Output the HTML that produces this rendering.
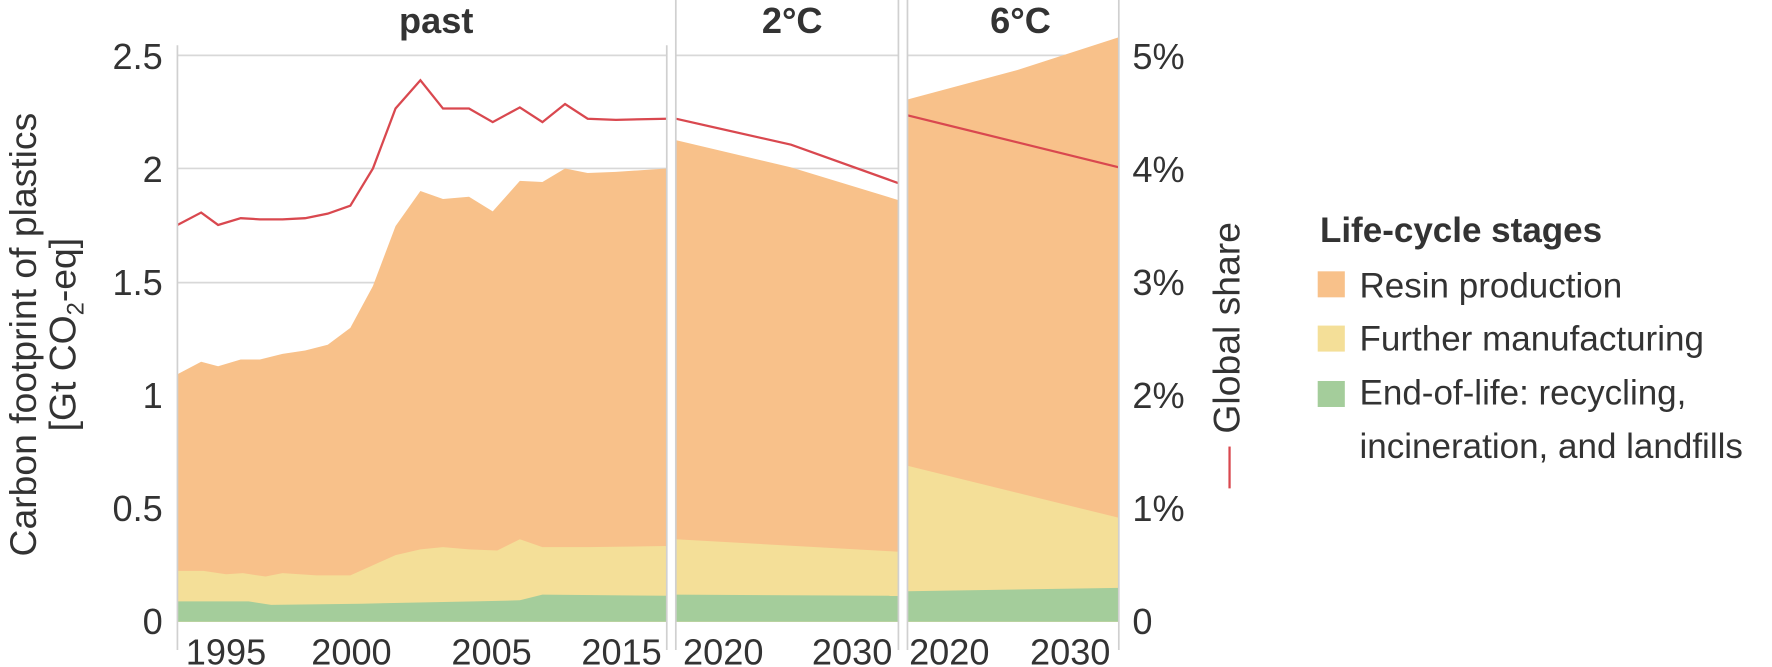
<!DOCTYPE html>
<html><head><meta charset="utf-8"><style>
html,body{margin:0;padding:0;background:#fff;}
svg{display:block;}
svg text{font-family:"Liberation Sans",sans-serif;fill:#333;}
</style></head><body>
<svg width="1772" height="667" viewBox="0 0 1568 590" preserveAspectRatio="none" xmlns="http://www.w3.org/2000/svg">
<g stroke="#d8d8d8" stroke-width="1.5">
<line x1="157" y1="49" x2="990" y2="49"/>
<line x1="157" y1="149" x2="990" y2="149"/>
<line x1="157" y1="250" x2="990" y2="250"/>
<line x1="157" y1="350" x2="990" y2="350"/>
<line x1="157" y1="450" x2="990" y2="450"/>
</g>
<polygon fill="#f8c18a" points="157,331 178,320 193,324 213,318 230,318 250,313 270,310 290,305 310,290 330,253 350,200 372,169 392,176 415,174 436,187 460,160 480,161 500,149 520,153 545,152 590,149 590,550 157,550"/>
<polygon fill="#f4df98" points="157,505 180,505 200,508 215,507 235,510 250,507 280,509 310,509 330,500 350,491 372,486 392,484 415,486 440,487 460,477 480,484 520,484 590,483 590,550 157,550"/>
<polygon fill="#a4cd9b" points="157,532 220,532 240,535 320,534 420,532 460,531 480,526 590,527 590,550 157,550"/>
<polyline fill="none" stroke="#d9484f" stroke-width="2" points="157,199 178,188 193,199 213,193 230,194 250,194 270,193 290,189 310,182 330,149 350,96 372,71 392,96 415,96 436,108 460,95 480,108 500,92 520,105 545,106 590,105"/>
<polygon fill="#f8c18a" points="598,124 700,148 795,177 795,550 598,550"/>
<polygon fill="#f4df98" points="598,477 795,488 795,550 598,550"/>
<polygon fill="#a4cd9b" points="598,526 795,527 795,550 598,550"/>
<polyline fill="none" stroke="#d9484f" stroke-width="2" points="598,105 700,128 795,162"/>
<polygon fill="#f8c18a" points="803,88 900,62 990,33 990,550 803,550"/>
<polygon fill="#f4df98" points="803,412 990,458 990,550 803,550"/>
<polygon fill="#a4cd9b" points="803,523 990,520 990,550 803,550"/>
<polyline fill="none" stroke="#d9484f" stroke-width="2" points="803,102 990,148"/>
<rect x="590" y="0" width="8" height="580" fill="#fff"/>
<rect x="795" y="0" width="8" height="580" fill="#fff"/>
<g stroke="#d0d0d0" stroke-width="1.5">
<line x1="157" y1="40" x2="157" y2="575"/>
<line x1="590" y1="40" x2="590" y2="575"/>
<line x1="598" y1="0" x2="598" y2="575"/>
<line x1="795" y1="0" x2="795" y2="575"/>
<line x1="803" y1="0" x2="803" y2="575"/>
<line x1="990" y1="0" x2="990" y2="575"/>
</g>
<g font-weight="bold" font-size="32" text-anchor="middle">
<text x="386" y="29">past</text>
<text x="701" y="29">2°C</text>
<text x="903" y="29">6°C</text>
</g>
<g font-size="32" text-anchor="end">
<text x="144" y="61">2.5</text>
<text x="144" y="161">2</text>
<text x="144" y="261">1.5</text>
<text x="144" y="361">1</text>
<text x="144" y="461">0.5</text>
<text x="144" y="561">0</text>
</g>
<g font-size="32" text-anchor="start">
<text x="1002" y="61">5%</text>
<text x="1002" y="161">4%</text>
<text x="1002" y="261">3%</text>
<text x="1002" y="361">2%</text>
<text x="1002" y="461">1%</text>
<text x="1002" y="561">0</text>
</g>
<g font-size="32" text-anchor="middle">
<text x="200" y="588">1995</text>
<text x="311" y="588">2000</text>
<text x="435" y="588">2005</text>
<text x="550" y="588">2015</text>
<text x="640" y="588">2020</text>
<text x="754" y="588">2030</text>
<text x="840" y="588">2020</text>
<text x="947" y="588">2030</text>
</g>
<text font-size="33" text-anchor="middle" transform="translate(32,296) rotate(-90)">Carbon footprint of plastics</text>
<text font-size="33" text-anchor="middle" transform="translate(67,296) rotate(-90)">[Gt CO<tspan font-size="21" dy="7">2</tspan><tspan dy="-7">-eq]</tspan></text>
<text font-size="33" text-anchor="middle" transform="translate(1097,290) rotate(-90)">Global share</text>
<line x1="1088" y1="395" x2="1088" y2="432" stroke="#d9484f" stroke-width="2"/>
<text x="1168" y="214" font-size="31" font-weight="bold">Life-cycle stages</text>
<rect x="1166" y="240" width="24" height="23" fill="#f8c18a"/>
<text x="1203" y="263" font-size="31">Resin production</text>
<rect x="1166" y="288" width="24" height="23" fill="#f4df98"/>
<text x="1203" y="310" font-size="31">Further manufacturing</text>
<rect x="1166" y="337" width="24" height="23" fill="#a4cd9b"/>
<text x="1203" y="358" font-size="31">End-of-life: recycling,</text>
<text x="1203" y="405" font-size="31">incineration, and landfills</text>
</svg>
</body></html>
